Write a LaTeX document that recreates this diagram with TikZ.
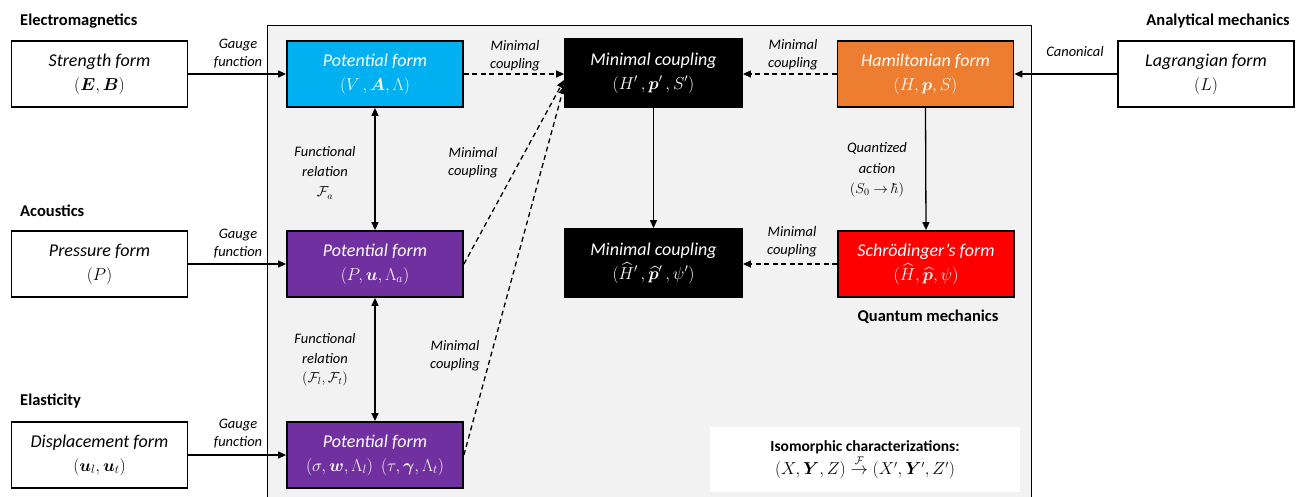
\documentclass[tikz,border=0pt]{standalone}
\usepackage{amsmath,amssymb,bm}
\usepackage{fontspec}
\setmainfont{Carlito}
\setsansfont{Carlito}
\usetikzlibrary{arrows.meta,calc}
\definecolor{cyanbox}{HTML}{00B0F0}
\definecolor{purplebox}{HTML}{7030A0}
\definecolor{orangebox}{HTML}{ED7D31}
\definecolor{redbox}{HTML}{FF0000}
\definecolor{panelgray}{HTML}{F2F2F2}
\tikzset{
 box/.style={draw=black, line width=1.8pt, rectangle, minimum width=176pt, minimum height=66pt, align=center, font=\fontsize{18}{24}\selectfont\itshape, inner sep=2pt},
 fbox/.style={box, text=white},
 elabel/.style={align=center, font=\fontsize{14.5}{18}\selectfont\itshape, inner sep=1pt},
 head/.style={font=\fontsize{16.5}{20}\selectfont\bfseries, inner sep=0pt},
 arr/.style={-{Triangle[length=8pt,width=7pt]}, line width=1.3pt},
 darr/.style={arr, dash pattern=on 5pt off 3.5pt},
 barr/.style={{Triangle[length=8pt,width=7pt]}-{Triangle[length=8pt,width=7pt]}, line width=1.3pt},
}
\begin{document}
\begin{tikzpicture}[x=1pt,y=-1pt]
\clip (0,0) rectangle (1304,496);
\fill[white] (0,0) rectangle (1304,496);
% panel
\draw[fill=panelgray, line width=1pt] (267,25) rectangle (1031,530);

% headings
\node[head, anchor=west] (hem) at (20,21) {Electromagnetics};
\node[head, anchor=west] (hac) at (20,211) {Acoustics};
\node[head, anchor=west] (hel) at (20,401) {Elasticity};
\node[head, anchor=east] (han) at (1290,21) {Analytical mechanics};
\node[head] (hqm) at (928,317) {Quantum mechanics};

% boxes
\node[box] (strength) at (99.5,74) {Strength form\\$(\boldsymbol{E},\boldsymbol{B})$};
\node[fbox, fill=cyanbox] (emPot) at (375,74) {Potential form\\$(V\,,\boldsymbol{A},\Lambda)$};
\node[fbox, fill=black, minimum width=177pt, minimum height=68pt] (mcTop) at (653.5,73) {Minimal coupling\\$(H'\,,\boldsymbol{p}'\,,S')$};
\node[fbox, fill=orangebox] (ham) at (925.5,74) {Hamiltonian form\\$(H,\boldsymbol{p},S)$};
\node[box] (lag) at (1206,74) {Lagrangian form\\$(L)$};

\node[box] (pressure) at (99.5,264) {Pressure form\\$(P)$};
\node[fbox, fill=purplebox] (acPot) at (375,264) {Potential form\\$(P,\boldsymbol{u},\Lambda_a)$};
\node[fbox, fill=black, minimum width=177pt, minimum height=68pt] (mcBot) at (653.5,263) {Minimal coupling\\$(\widehat{H}'\,,\widehat{\boldsymbol{p}}'\,,\psi')$};
\node[fbox, fill=redbox] (schr) at (926,264) {Schrödinger's form\\$(\widehat{H},\widehat{\boldsymbol{p}},\psi)$};

\node[box] (disp) at (99.5,455) {Displacement form\\$(\boldsymbol{u}_l,\boldsymbol{u}_t)$};
\node[fbox, fill=purplebox] (elPot) at (375,455) {Potential form\\$(\sigma,\boldsymbol{w},\Lambda_l)$\ \ $(\tau,\boldsymbol{\gamma},\Lambda_t)$};

% legend
\node[fill=white, minimum width=310pt, minimum height=65pt, align=center, inner sep=2pt] (legend) at (865,459.5)
 {{\fontsize{15.5}{19}\selectfont\bfseries Isomorphic characterizations:}\\[1pt]
  {\fontsize{16}{19}\selectfont $(X,\boldsymbol{Y},Z)\overset{\mathcal{F}}{\rightarrow}(X',\boldsymbol{Y}',Z')$}};

% connectors
\draw[arr] (strength) -- (emPot);
\draw[arr] (pressure) -- (acPot);
\draw[arr] (disp) -- (elPot);
\draw[arr] (lag) -- (ham);
\draw[darr] (emPot.east) -- (mcTop.west |- emPot.east);
\draw[darr] (ham.west) -- (mcTop.east |- ham.west);
\draw[darr] (schr.west) -- (mcBot.east |- schr.west);
\draw[darr] (acPot.east) -- ($(mcTop.west)+(0,7)$);
\draw[darr] (elPot.east) -- ($(mcTop.west)+(0,13)$);
\draw[barr] (emPot.south) -- (acPot.north);
\draw[barr] (acPot.south) -- (elPot.north);
\draw[arr] (mcTop.south) -- (mcBot.north);
\draw[arr] (ham.south) -- (schr.north);

% edge labels
\node[elabel] (g1) at (238,54) {Gauge\\function};
\node[elabel] (g2) at (238,244) {Gauge\\function};
\node[elabel] (g3) at (238,434) {Gauge\\function};
\node[elabel] (can) at (1075,52) {Canonical};
\node[elabel] (m1) at (515,56) {Minimal\\coupling};
\node[elabel] (m2) at (793,55) {Minimal\\coupling};
\node[elabel] (m3) at (473,163) {Minimal\\coupling};
\node[elabel] (m4) at (455,356) {Minimal\\coupling};
\node[elabel] (m5) at (792,242) {Minimal\\coupling};
\node[elabel, font=\fontsize{14.5}{20}\selectfont\itshape] (f1) at (325,173) {Functional\\relation\\$\mathcal{F}_a$};
\node[elabel, font=\fontsize{14.5}{19.5}\selectfont\itshape] (f2) at (325,360) {Functional\\relation\\$(\mathcal{F}_l,\mathcal{F}_t)$};
\node[elabel, font=\fontsize{14.5}{20.5}\selectfont\itshape] (qa) at (877,170) {Quantized\\action\\$(S_0\rightarrow\hbar)$};
\end{tikzpicture}
\end{document}
